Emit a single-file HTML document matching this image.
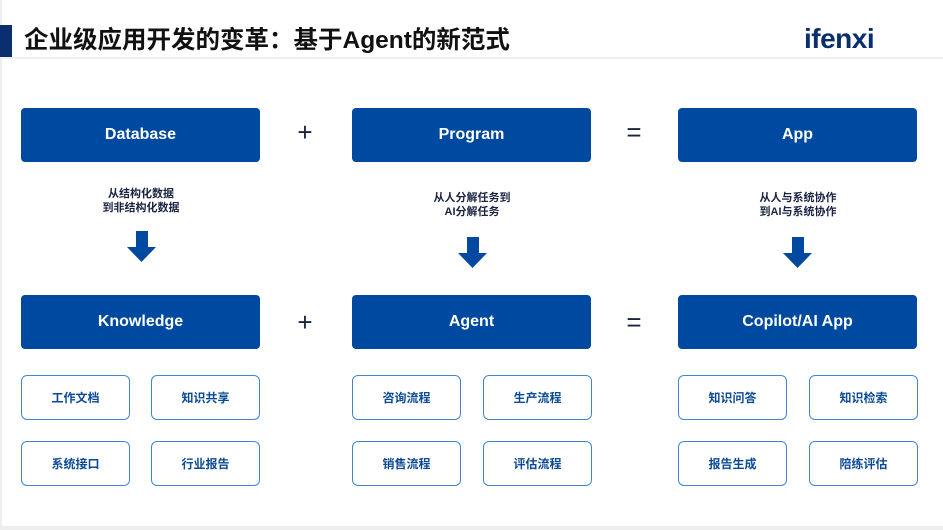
<!DOCTYPE html>
<html><head><meta charset="utf-8"><style>
body{margin:0;width:943px;height:530px;background:#fff;position:relative;overflow:hidden;font-family:"Liberation Sans","Noto Sans CJK SC",sans-serif}
div{position:absolute;box-sizing:border-box}
.b{background:#0049a0;color:#fff;border-radius:4px;font-weight:bold;font-size:16px;display:flex;align-items:center;justify-content:center;height:54px;width:239px}
.s{border:1.5px solid #3f86d0;border-radius:6px;color:#0b4a96;font-weight:bold;font-size:12px;display:flex;align-items:center;justify-content:center;width:109px;height:45px}
.op{font-size:26px;color:#1a2340;width:30px;text-align:center;line-height:30px}
.t{font-size:11px;font-weight:bold;color:#1a2340;text-align:center;line-height:14px;width:200px}
.ar{width:29px;height:31px}
</style></head><body>
<div style="left:0;top:0;width:2px;height:530px;background:#eee"></div>
<div style="left:0;top:526px;width:943px;height:4px;background:#eee"></div>
<div style="left:0;top:25px;width:12px;height:33px;background:#0a2e6e"></div>
<div style="left:0;top:57px;width:943px;height:2px;background:#f0f0f0"></div>
<div style="left:24px;top:25px;font-size:24.5px;font-weight:bold;color:#111;line-height:32px;white-space:nowrap">企业级应用开发的变革：基于Agent的新范式</div>
<div style="left:804px;top:22px;font-size:28px;font-weight:bold;color:#0a2e6e;line-height:34px;letter-spacing:-0.5px">ifenxi</div>

<div class="b" style="left:21px;top:108px">Database</div>
<div class="b" style="left:352px;top:108px">Program</div>
<div class="b" style="left:678px;top:108px">App</div>
<div class="op" style="left:290px;top:117px">+</div>
<div class="op" style="left:619px;top:117px">=</div>

<div class="t" style="left:41px;top:187px">从结构化数据<br>到非结构化数据</div>
<div class="t" style="left:372px;top:191px">从人分解任务到<br>AI分解任务</div>
<div class="t" style="left:698px;top:191px">从人与系统协作<br>到AI与系统协作</div>

<svg class="ar" style="position:absolute;left:127px;top:231px" viewBox="0 0 29 31"><path d="M9 0H21V16H29L14.5 31L0 16H9Z" fill="#0049a0"/></svg>
<svg class="ar" style="position:absolute;left:458px;top:237px" viewBox="0 0 29 31"><path d="M9 0H21V16H29L14.5 31L0 16H9Z" fill="#0049a0"/></svg>
<svg class="ar" style="position:absolute;left:783px;top:237px" viewBox="0 0 29 31"><path d="M9 0H21V16H29L14.5 31L0 16H9Z" fill="#0049a0"/></svg>

<div class="b" style="left:21px;top:295px">Knowledge</div>
<div class="b" style="left:352px;top:295px">Agent</div>
<div class="b" style="left:678px;top:295px">Copilot/AI App</div>
<div class="op" style="left:290px;top:307px">+</div>
<div class="op" style="left:619px;top:307px">=</div>

<div class="s" style="left:21px;top:375px">工作文档</div>
<div class="s" style="left:151px;top:375px">知识共享</div>
<div class="s" style="left:21px;top:441px">系统接口</div>
<div class="s" style="left:151px;top:441px">行业报告</div>
<div class="s" style="left:352px;top:375px">咨询流程</div>
<div class="s" style="left:483px;top:375px">生产流程</div>
<div class="s" style="left:352px;top:441px">销售流程</div>
<div class="s" style="left:483px;top:441px">评估流程</div>
<div class="s" style="left:678px;top:375px">知识问答</div>
<div class="s" style="left:809px;top:375px">知识检索</div>
<div class="s" style="left:678px;top:441px">报告生成</div>
<div class="s" style="left:809px;top:441px">陪练评估</div>
</body></html>
